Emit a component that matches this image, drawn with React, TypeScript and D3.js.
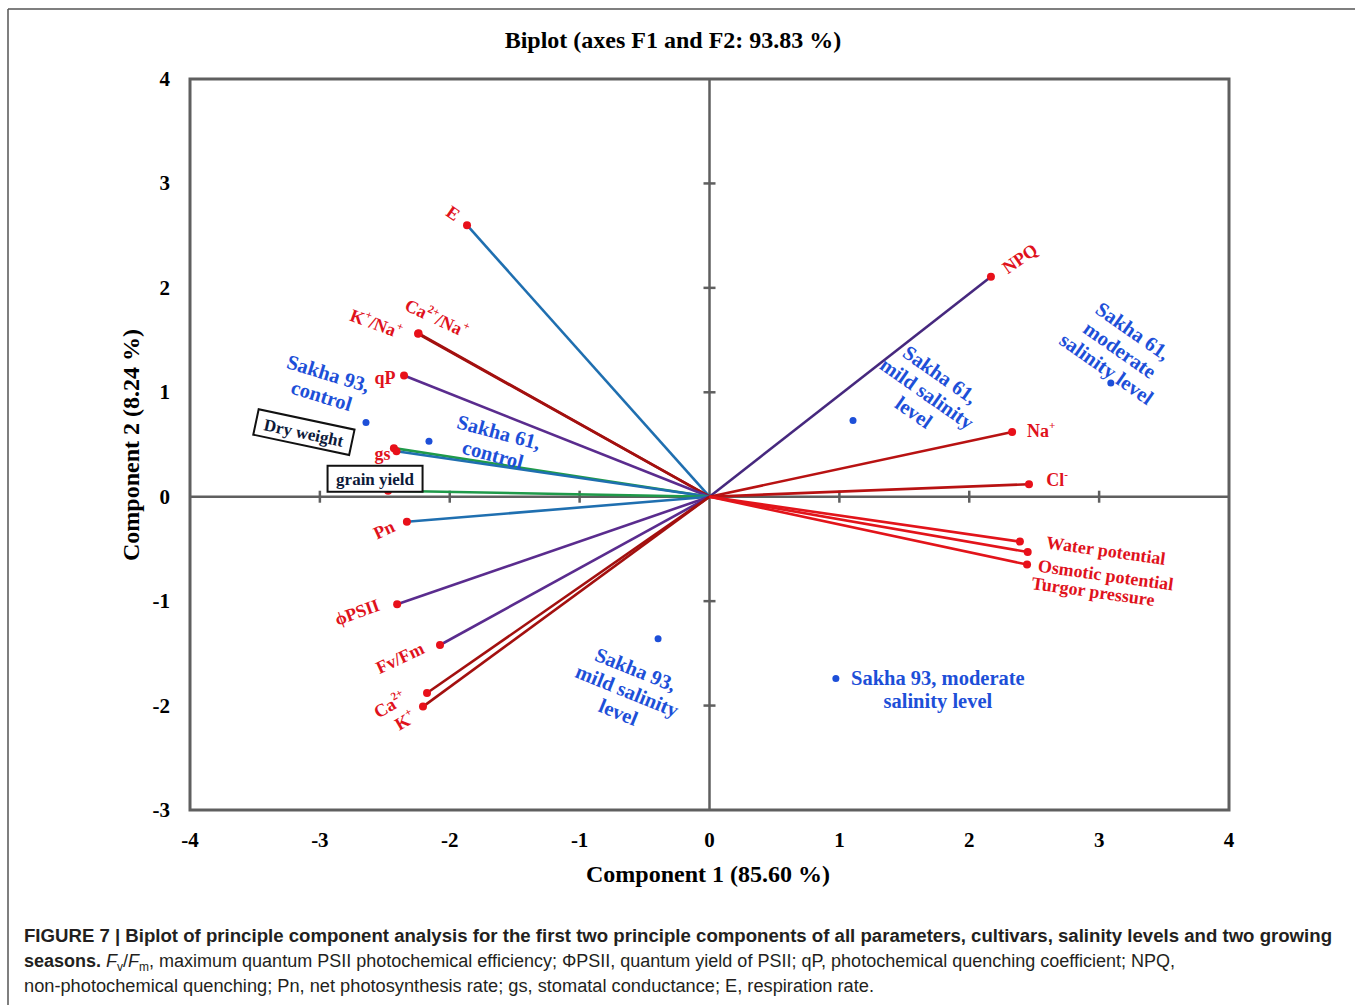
import React from "react";
import * as d3 from "d3";

// ---------- data ----------
const varNames = [
  "E", "K^+/Na^+", "Ca^2+/Na^+", "qP", "Dry weight", "gs", "grain yield", "Pn",
  "ϕPSII", "Fv/Fm", "Ca^2+", "K^+", "NPQ", "Na^+", "Cl^-",
  "Water potential", "Osmotic potential", "Turgor pressure",
];
const varPC1 = [-1.867, -2.244, -2.24, -2.352, -2.43, -2.41, -2.475, -2.33, -2.405, -2.075, -2.175, -2.206, 2.167, 2.33, 2.46, 2.39, 2.45, 2.445];
const varPC2 = [2.6, 1.56, 1.565, 1.16, 0.465, 0.435, 0.057, -0.24, -1.03, -1.42, -1.88, -2.01, 2.107, 0.62, 0.12, -0.43, -0.53, -0.65];

const obsNames = [
  "Sakha 93, control",
  "Sakha 61, control",
  "Sakha 61, mild salinity level",
  "Sakha 61, moderate salinity level",
  "Sakha 93, mild salinity level",
  "Sakha 93, moderate salinity level",
];
const obsPC1 = [-2.645, -2.16, 1.105, 3.09, -0.396, 0.973];
const obsPC2 = [0.71, 0.53, 0.73, 1.09, -1.36, -1.74];

const xTicks = [-4, -3, -2, -1, 0, 1, 2, 3, 4];
const yTicks = [-3, -2, -1, 0, 1, 2, 3, 4];

const title = "Biplot (axes F1 and F2: 93.83 %)";
const xTitle = "Component  1 (85.60 %)";
const yTitle = "Component  2 (8.24 %)";

// ---------- styles ----------
const BLUE = "#1f6fb0";
const GREEN = "#1f9a4a";
const PURPLE = "#5a2c8e";
const DARKRED = "#a3100f";
const RED = "#e2141a";

const varStyle: Record<string, { c: string; dx: number; dy: number; r: number; box?: boolean; w?: number }> = {
  "E": { c: BLUE, dx: -14, dy: -12, r: 35 },
  "K^+/Na^+": { c: DARKRED, dx: -42, dy: -10, r: 20 },
  "Ca^2+/Na^+": { c: DARKRED, dx: 18, dy: -15, r: 25 },
  "qP": { c: PURPLE, dx: -19, dy: 2, r: 0 },
  "Dry weight": { c: GREEN, dx: -90, dy: -16, r: 12, box: true, w: 98 },
  "gs": { c: BLUE, dx: -14, dy: 3, r: 0 },
  "grain yield": { c: GREEN, dx: -13, dy: -12, r: 0, box: true, w: 95 },
  "Pn": { c: BLUE, dx: -23, dy: 8, r: -25 },
  "ϕPSII": { c: PURPLE, dx: -40, dy: 8, r: -20 },
  "Fv/Fm": { c: PURPLE, dx: -40, dy: 13, r: -25 },
  "Ca^2+": { c: DARKRED, dx: -37, dy: 12, r: -30 },
  "K^+": { c: DARKRED, dx: -18, dy: 14, r: -30 },
  "NPQ": { c: "#46287e", dx: 29, dy: -18, r: -35 },
  "Na^+": { c: "#b81212", dx: 29, dy: -1, r: 0 },
  "Cl^-": { c: "#b81212", dx: 28, dy: -4, r: 0 },
  "Water potential": { c: RED, dx: 86, dy: 9, r: 8 },
  "Osmotic potential": { c: RED, dx: 78, dy: 23, r: 8 },
  "Turgor pressure": { c: RED, dx: 66, dy: 27, r: 8 },
};

const obsStyle: Record<string, { dx: number; dy: number; r: number; lines: string[] }> = {
  "Sakha 93, control": { dx: -41, dy: -38, r: 17, lines: ["Sakha 93,", "control"] },
  "Sakha 61, control": { dx: 67, dy: 2, r: 15, lines: ["Sakha 61,", "control"] },
  "Sakha 61, mild salinity level": { dx: 74, dy: -27, r: 35, lines: ["Sakha 61,", "mild salinity", "level"] },
  "Sakha 61, moderate salinity level": { dx: 9, dy: -33, r: 35, lines: ["Sakha 61,", "moderate", "salinity level"] },
  "Sakha 93, mild salinity level": { dx: -31, dy: 52, r: 22, lines: ["Sakha 93,", "mild salinity", "level"] },
  "Sakha 93, moderate salinity level": { dx: 102, dy: 11, r: 0, lines: ["Sakha 93, moderate", "salinity level"] },
};

const SERIF = "'Liberation Serif', 'Times New Roman', serif";
const SANS = "'Liberation Sans', Arial, sans-serif";

function richLabel(s: string) {
  const parts: React.ReactNode[] = [];
  const re = /\^([^/]+)/g;
  let last = 0;
  let m: RegExpExecArray | null;
  let k = 0;
  while ((m = re.exec(s))) {
    if (m.index > last) parts.push(<tspan key={k++}>{s.slice(last, m.index)}</tspan>);
    parts.push(
      <tspan key={k++} baselineShift="super" fontSize="62%">{m[1]}</tspan>
    );
    last = m.index + m[0].length;
  }
  if (last < s.length) parts.push(<tspan key={k++}>{s.slice(last)}</tspan>);
  return parts;
}

export default function App() {
  const x = d3.scaleLinear().domain([-4, 4]).range([190, 1229]);
  const y = d3.scaleLinear().domain([-3, 4]).range([810, 79]);
  const x0 = x(0);
  const y0 = y(0);
  const AX = "#5f5f5f";

  return (
    <svg width={1355} height={1005} style={{ position: "absolute", left: 0, top: 0, background: "#fff" }}>
      {/* figure frame */}
      <line x1={8} y1={9} x2={1355} y2={9} stroke="#555" strokeWidth={1.5} />
      <line x1={8} y1={9} x2={8} y2={1005} stroke="#555" strokeWidth={1.5} />

      {/* title */}
      <text x={673} y={40} textAnchor="middle" dominantBaseline="central" fontFamily={SERIF} fontWeight="bold" fontSize={24}>
        {title}
      </text>

      {/* plot frame */}
      <rect x={x(-4)} y={y(4)} width={x(4) - x(-4)} height={y(-3) - y(4)} fill="none" stroke={AX} strokeWidth={3} />
      {/* axes through origin */}
      <line x1={x(-4)} x2={x(4)} y1={y0} y2={y0} stroke={AX} strokeWidth={2.5} />
      <line x1={x0} x2={x0} y1={y(4)} y2={y(-3)} stroke={AX} strokeWidth={2.5} />
      {xTicks.filter((t) => t > -4 && t < 4 && t !== 0).map((t) => (
        <line key={"xt" + t} x1={x(t)} x2={x(t)} y1={y0 - 6} y2={y0 + 6} stroke={AX} strokeWidth={2.5} />
      ))}
      {yTicks.filter((t) => t > -3 && t < 4 && t !== 0).map((t) => (
        <line key={"yt" + t} x1={x0 - 6} x2={x0 + 6} y1={y(t)} y2={y(t)} stroke={AX} strokeWidth={2.5} />
      ))}

      {/* tick labels */}
      {yTicks.map((t) => (
        <text key={"yl" + t} x={170} y={y(t)} textAnchor="end" dominantBaseline="central" fontFamily={SERIF} fontWeight="bold" fontSize={21}>
          {t}
        </text>
      ))}
      {xTicks.map((t) => (
        <text key={"xl" + t} x={x(t)} y={840} textAnchor="middle" dominantBaseline="central" fontFamily={SERIF} fontWeight="bold" fontSize={21}>
          {t}
        </text>
      ))}

      {/* axis titles */}
      <text x={708} y={874} textAnchor="middle" dominantBaseline="central" fontFamily={SERIF} fontWeight="bold" fontSize={24}>
        {xTitle}
      </text>
      <text transform={`translate(131,445) rotate(-90)`} textAnchor="middle" dominantBaseline="central" fontFamily={SERIF} fontWeight="bold" fontSize={24}>
        {yTitle}
      </text>

      {/* vectors */}
      {varNames.map((n, i) => {
        const st = varStyle[n];
        return (
          <line key={"v" + n} x1={x0} y1={y0} x2={x(varPC1[i])} y2={y(varPC2[i])} stroke={st.c} strokeWidth={2.6} />
        );
      })}
      {varNames.map((n, i) => (
        <circle key={"p" + n} cx={x(varPC1[i])} cy={y(varPC2[i])} r={4} fill="#e8101a" />
      ))}

      {/* variable labels */}
      {varNames.map((n, i) => {
        const st = varStyle[n];
        const cx = x(varPC1[i]) + st.dx;
        const cy = y(varPC2[i]) + st.dy;
        if (st.box) {
          const w = st.w || 90;
          return (
            <g key={"l" + n} transform={`translate(${cx},${cy}) rotate(${st.r})`}>
              <rect x={-w / 2} y={-13} width={w} height={26} fill="#fff" stroke="#111" strokeWidth={2} />
              <text x={0} y={1} textAnchor="middle" dominantBaseline="central" fontFamily={SERIF} fontWeight="bold" fontSize={17} fill="#0d1a3a">
                {n}
              </text>
            </g>
          );
        }
        return (
          <text key={"l" + n} transform={`translate(${cx},${cy}) rotate(${st.r})`} textAnchor="middle" dominantBaseline="central"
            fontFamily={SERIF} fontWeight="bold" fontSize={18} fill="#e0121c">
            {richLabel(n)}
          </text>
        );
      })}

      {/* observations */}
      {obsNames.map((n, i) => (
        <circle key={"o" + n} cx={x(obsPC1[i])} cy={y(obsPC2[i])} r={3.5} fill="#1d4fd8" />
      ))}
      {obsNames.map((n, i) => {
        const st = obsStyle[n];
        const cx = x(obsPC1[i]) + st.dx;
        const cy = y(obsPC2[i]) + st.dy;
        const lh = 23;
        return (
          <g key={"ol" + n} transform={`translate(${cx},${cy}) rotate(${st.r})`}>
            {st.lines.map((l, j) => (
              <text key={j} x={0} y={(j - (st.lines.length - 1) / 2) * lh} textAnchor="middle" dominantBaseline="central"
                fontFamily={SERIF} fontWeight="bold" fontSize={20.5} fill="#1d4fd8">
                {l}
              </text>
            ))}
          </g>
        );
      })}

      {/* caption */}
      <g fontFamily={SANS} fontSize={18} fill="#231f20">
        <text x={24} y={942} fontWeight="bold" textLength={1308} lengthAdjust="spacingAndGlyphs">
          FIGURE 7 | Biplot of principle component analysis for the first two principle components of all parameters, cultivars, salinity levels and two growing
        </text>
        <text x={24} y={967}>
          <tspan fontWeight="bold">seasons.</tspan>
          <tspan> </tspan>
          <tspan fontStyle="italic">F</tspan>
          <tspan fontSize={12} dy={4}>v</tspan>
          <tspan dy={-4}>/</tspan>
          <tspan fontStyle="italic">F</tspan>
          <tspan fontSize={12} dy={4}>m</tspan>
          <tspan dy={-4}>, maximum quantum PSII photochemical efficiency; ΦPSII, quantum yield of PSII; qP, photochemical quenching coefficient; NPQ,</tspan>
        </text>
        <text x={24} y={992} textLength={850} lengthAdjust="spacingAndGlyphs">
          non-photochemical quenching; Pn, net photosynthesis rate; gs, stomatal conductance; E, respiration rate.
        </text>
      </g>
    </svg>
  );
}
